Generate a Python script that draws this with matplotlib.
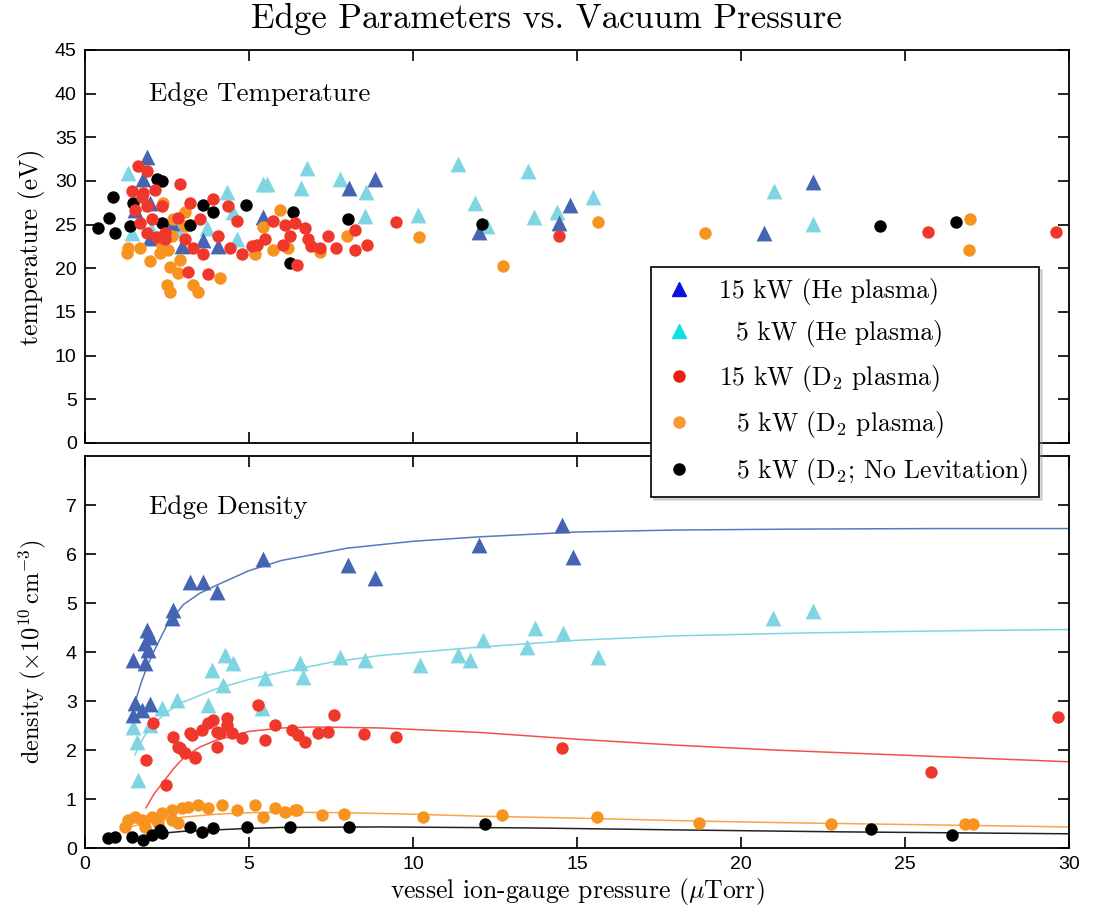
import matplotlib
matplotlib.use("Agg")
import matplotlib.pyplot as plt
from matplotlib.lines import Line2D

plt.rcParams["mathtext.fontset"] = "cm"
plt.rcParams["axes.unicode_minus"] = False

# ---- temperature panel data (pressure in uTorr, temperature in eV) ----
he15_tx = [1.88, 1.77, 1.52, 1.98, 1.98, 2.64, 2.95, 3.6, 4.05, 5.43, 8.05, 8.84,
           12.0, 14.45, 14.8, 20.7, 22.2]
he15_t = [32.8, 30.2, 26.7, 27.5, 23.5, 25.2, 22.5, 23.2, 22.5, 25.9, 29.2, 30.2,
          24.2, 25.2, 27.2, 24.1, 29.9]

he5_tx = [1.32, 1.42, 2.0, 2.84, 3.71, 4.32, 4.5, 4.62, 5.42, 5.55, 6.58, 6.77, 7.77,
          8.54, 8.57, 10.15, 11.37, 11.9, 12.26, 13.5, 13.7, 14.4, 15.5, 21.0, 22.2]
he5_t = [30.9, 24.1, 24.5, 24.4, 24.6, 28.7, 26.4, 23.3, 29.6, 29.6, 29.2, 31.5, 30.2,
         25.95, 28.7, 26.1, 31.9, 27.5, 24.9, 31.1, 25.9, 26.4, 28.2, 28.8, 25.1]

d15_tx = [1.63, 1.88, 2.9, 1.42, 1.78, 2.13, 1.52, 1.88, 2.34, 1.68, 2.03, 1.88, 2.44,
          2.85, 3.2, 3.5, 3.91, 4.37, 4.62, 2.44, 3.05, 3.3, 3.6, 4.07, 4.42, 4.78,
          5.08, 3.15, 3.74, 1.73, 2.19, 5.74, 6.1, 6.4, 6.7, 5.23, 5.49, 6.05, 6.25,
          6.8, 6.9, 7.16, 7.4, 7.65, 8.23, 8.59, 8.23, 9.48, 6.45, 14.46, 25.7, 29.6]
d15_t = [31.7, 31.1, 29.6, 28.8, 28.6, 29.0, 26.7, 27.1, 27.1, 25.2, 25.6, 24.0, 24.0,
         25.8, 27.5, 25.6, 27.9, 27.1, 25.4, 23.3, 23.3, 22.3, 21.6, 23.7, 22.3, 21.6,
         22.5, 19.6, 19.4, 28.2, 23.6, 25.4, 25.0, 25.2, 24.6, 22.7, 23.3, 22.7, 23.7,
         23.3, 22.5, 22.3, 23.7, 22.3, 22.1, 22.7, 24.4, 25.3, 20.4, 23.7, 24.2, 24.2]

d5_tx = [1.32, 1.27, 1.68, 1.98, 2.29, 2.54, 2.59, 2.9, 2.85, 2.49, 2.59, 3.3, 3.46,
         4.12, 3.05, 2.39, 2.69, 3.05, 2.64, 2.34, 5.95, 5.44, 5.74, 5.18, 6.2, 7.16,
         7.98, 10.2, 12.75, 15.65, 18.9, 27.0, 26.96]
d5_t = [22.3, 21.7, 22.3, 20.8, 21.7, 22.1, 20.2, 21.0, 19.5, 18.1, 17.3, 18.1, 17.3,
        18.9, 26.5, 27.5, 25.6, 24.8, 23.7, 22.7, 26.7, 24.7, 22.1, 21.6, 22.3, 21.9,
        23.7, 23.6, 20.3, 25.3, 24.0, 25.7, 22.1]

nolev_tx = [0.41, 0.74, 0.86, 0.91, 1.37, 1.47, 2.19, 2.34, 2.34, 3.2, 3.6, 3.91, 4.91,
            6.35, 6.25, 8.03, 12.1, 24.24, 26.55]
nolev_t = [24.6, 25.8, 28.2, 24.1, 24.9, 27.5, 30.2, 30.0, 25.2, 25.0, 27.2, 26.4, 27.2,
           26.5, 20.6, 25.6, 25.1, 24.9, 25.3]

# ---- density panel data (x 1e10 cm^-3) ----
he15_nx = [5.43, 3.2, 3.6, 4.02, 2.68, 2.65, 1.89, 1.98, 1.83, 1.92, 1.46, 1.83, 1.52,
           1.98, 1.46, 1.74, 8.02, 8.84, 12.01, 14.54, 14.88]
he15_n = [5.90, 5.43, 5.43, 5.22, 4.86, 4.69, 4.45, 4.31, 4.18, 4.04, 3.84, 3.78, 2.96,
          2.94, 2.71, 2.82, 5.78, 5.51, 6.18, 6.59, 5.94]

he5_nx = [4.27, 4.51, 3.87, 4.21, 5.49, 6.55, 6.65, 5.4, 3.75, 2.8, 2.35, 1.98, 1.46,
          1.59, 1.62, 7.77, 8.54, 10.21, 11.37, 11.74, 12.13, 13.48, 13.72, 14.57,
          15.64, 20.98, 22.2]
he5_n = [3.94, 3.78, 3.63, 3.33, 3.47, 3.78, 3.49, 2.86, 2.92, 3.02, 2.86, 2.51, 2.47,
         2.16, 1.39, 3.9, 3.84, 3.73, 3.94, 3.84, 4.24, 4.1, 4.49, 4.39, 3.9, 4.69, 4.84]

d15_nx = [2.07, 1.86, 2.47, 5.27, 2.68, 2.84, 3.05, 3.35, 3.26, 3.57, 3.75, 4.02, 4.02,
          4.33, 4.48, 4.79, 5.49, 5.79, 6.31, 6.49, 7.1, 7.41, 8.5, 7.59, 6.71, 9.48,
          14.54, 25.79, 29.66, 3.9, 4.33, 4.12, 3.2, 2.9, 3.35]
d15_n = [2.55, 1.8, 1.29, 2.92, 2.27, 2.06, 1.94, 1.84, 2.31, 2.41, 2.55, 2.06, 2.37,
         2.51, 2.35, 2.24, 2.2, 2.51, 2.41, 2.31, 2.35, 2.37, 2.33, 2.71, 2.16, 2.27,
         2.04, 1.55, 2.67, 2.61, 2.65, 2.35, 2.35, 2.04, 1.86]

d5_nx = [1.31, 1.52, 1.74, 2.04, 2.35, 2.65, 2.96, 3.14, 3.45, 3.75, 4.18, 4.63, 5.18,
         5.43, 5.79, 6.1, 6.46, 7.23, 7.9, 2.65, 2.23, 1.83, 1.22, 2.84, 6.4, 10.3,
         12.71, 15.61, 18.72, 22.74, 26.83, 27.07]
d5_n = [0.57, 0.63, 0.57, 0.63, 0.71, 0.78, 0.82, 0.84, 0.88, 0.82, 0.88, 0.78, 0.88,
        0.63, 0.82, 0.73, 0.78, 0.67, 0.69, 0.57, 0.51, 0.43, 0.43, 0.51, 0.78, 0.63,
        0.67, 0.63, 0.51, 0.49, 0.49, 0.49]

nolev_nx = [0.7, 0.91, 1.43, 1.77, 2.04, 2.29, 2.35, 3.2, 3.57, 3.9, 4.94, 6.25, 8.05,
            12.2, 23.96, 26.43]
nolev_n = [0.2, 0.22, 0.22, 0.16, 0.27, 0.37, 0.31, 0.43, 0.33, 0.41, 0.43, 0.43, 0.43,
           0.49, 0.39, 0.27]

# ---- fitted curves ----
he15_fx = [1.52, 1.7, 1.9, 2.2, 2.5, 3.0, 3.5, 4.0, 5.0, 6.0, 8.0, 10, 12, 15, 18, 22, 26, 30]
he15_fy = [2.96, 3.35, 3.72, 4.15, 4.55, 4.97, 5.2, 5.36, 5.66, 5.87, 6.12, 6.26, 6.35,
           6.45, 6.49, 6.51, 6.52, 6.52]
he5_fx = [1.52, 1.75, 2.0, 2.5, 3.0, 4.0, 5.0, 6.0, 7.5, 9, 12, 15, 18, 22, 26, 30]
he5_fy = [1.9, 2.22, 2.47, 2.78, 2.98, 3.25, 3.44, 3.59, 3.79, 3.93, 4.1, 4.24, 4.33,
          4.39, 4.43, 4.46]
d15_fx = [1.86, 2.1, 2.4, 2.7, 3.0, 3.5, 4.0, 5.0, 6.0, 7.0, 9, 12, 15, 18, 21, 24, 27, 30]
d15_fy = [0.82, 1.1, 1.36, 1.62, 1.84, 2.06, 2.2, 2.38, 2.45, 2.47, 2.45, 2.36, 2.22,
          2.1, 2.0, 1.92, 1.84, 1.76]
d5_fx = [1.3, 2, 3, 4, 5, 6, 8, 10, 12, 15, 18, 21, 24, 27, 30]
d5_fy = [0.42, 0.53, 0.63, 0.69, 0.72, 0.73, 0.72, 0.69, 0.65, 0.61, 0.56, 0.52, 0.49,
         0.46, 0.43]
nolev_fx = [2.3, 3, 4, 5, 6, 9, 13.5, 18, 23, 30]
nolev_fy = [0.3, 0.34, 0.37, 0.4, 0.42, 0.43, 0.41, 0.37, 0.33, 0.29]

labels = ["15 kW (He plasma)", "  5 kW (He plasma)", r"15 kW (D$_2$ plasma)",
          r"  5 kW (D$_2$ plasma)", r"  5 kW (D$_2$; No Levitation)"]

c_he15 = "#4565b3"
c_he5 = "#7fd5e2"
c_d15 = "#f0372b"
c_d5 = "#f7941f"
c_nolev = "#000000"

serif = "cmr10"
tickfont = ["Liberation Sans Narrow", "Liberation Sans", "DejaVu Sans"]

fig = plt.figure(figsize=(10.93, 9.09), dpi=100)
ax1 = fig.add_axes([0.0778, 0.5127, 0.900, 0.4323])
ax2 = fig.add_axes([0.0778, 0.0671, 0.900, 0.4312])

tri_s = 130
dot_s = 80

# top: temperature
ax1.scatter(he5_tx, he5_t, marker="^", s=tri_s, color=c_he5, linewidths=0, zorder=3)
ax1.scatter(he15_tx, he15_t, marker="^", s=tri_s, color=c_he15, linewidths=0, zorder=3)
ax1.scatter(d5_tx, d5_t, marker="o", s=dot_s, color=c_d5, linewidths=0, zorder=3)
ax1.scatter(nolev_tx, nolev_t, marker="o", s=dot_s, color=c_nolev, linewidths=0, zorder=3)
ax1.scatter(d15_tx, d15_t, marker="o", s=dot_s, color=c_d15, linewidths=0, zorder=3)
ax1.set_xlim(0, 30)
ax1.set_ylim(0, 45)
ax1.set_yticks(range(0, 46, 5))
ax1.set_xticks(range(0, 31, 5))
ax1.set_xticklabels([])
ax1.set_ylabel("temperature (eV)", fontsize=18.5, family=serif, labelpad=7)
ax1.text(1.95, 40, "Edge Temperature", fontsize=19.5, family=serif, va="center")

# bottom: density
ax2.plot(he15_fx, he15_fy, color="#5878c0", lw=1.1, zorder=2)
ax2.plot(he5_fx, he5_fy, color="#7fd5e2", lw=1.1, zorder=2)
ax2.plot(d15_fx, d15_fy, color="#f2524a", lw=1.1, zorder=2)
ax2.plot(d5_fx, d5_fy, color="#f9a54a", lw=1.1, zorder=2)
ax2.plot(nolev_fx, nolev_fy, color="#222222", lw=1.1, zorder=2)
ax2.scatter(he5_nx, he5_n, marker="^", s=tri_s, color=c_he5, linewidths=0, zorder=3)
ax2.scatter(he15_nx, he15_n, marker="^", s=tri_s, color=c_he15, linewidths=0, zorder=3)
ax2.scatter(d5_nx, d5_n, marker="o", s=dot_s, color=c_d5, linewidths=0, zorder=3)
ax2.scatter(nolev_nx, nolev_n, marker="o", s=dot_s, color=c_nolev, linewidths=0, zorder=3)
ax2.scatter(d15_nx, d15_n, marker="o", s=dot_s, color=c_d15, linewidths=0, zorder=3)
ax2.set_xlim(0, 30)
ax2.set_ylim(0, 8)
ax2.set_yticks(range(0, 8))
ax2.set_xticks(range(0, 31, 5))
ax2.set_ylabel(r"density $(\times 10^{10}\,\mathrm{cm}^{-3})$", fontsize=17.5, family=serif,
               labelpad=13)
ax2.set_xlabel(r"vessel ion-gauge pressure ($\mu$Torr)", fontsize=18.5, family=serif,
               labelpad=2)
ax2.text(1.95, 6.95, "Edge Density", fontsize=19.5, family=serif, va="center")

for ax in (ax1, ax2):
    ax.tick_params(direction="in", length=8, width=1.2, top=True, right=True,
                   labelsize=14, pad=6)
    for lab in ax.get_xticklabels() + ax.get_yticklabels():
        lab.set_family(tickfont)
    for sp in ax.spines.values():
        sp.set_linewidth(1.3)

fig.suptitle("Edge Parameters vs. Vacuum Pressure", fontsize=25, family=serif, y=0.997)

handles = [
    Line2D([], [], marker="^", ls="none", color="#1010e0", markersize=10),
    Line2D([], [], marker="^", ls="none", color="#10e0e0", markersize=10),
    Line2D([], [], marker="o", ls="none", color="#e82010", markersize=8),
    Line2D([], [], marker="o", ls="none", color="#f79a30", markersize=8),
    Line2D([], [], marker="o", ls="none", color="#000000", markersize=8),
]
leg = fig.legend(handles, labels, loc="upper left", bbox_to_anchor=(0.596, 0.706),
                 borderaxespad=0,
                 prop={"family": serif, "size": 18.5}, frameon=True, fancybox=False,
                 edgecolor="black", framealpha=1, labelspacing=0.6, borderpad=0.42,
                 handletextpad=0.9, handlelength=1.3,
                 shadow={"color": "0.6", "alpha": 0.35, "ox": 2, "oy": -2})
leg.get_frame().set_linewidth(1.2)
leg.set_zorder(10)

fig.savefig("out.png", dpi=100)
